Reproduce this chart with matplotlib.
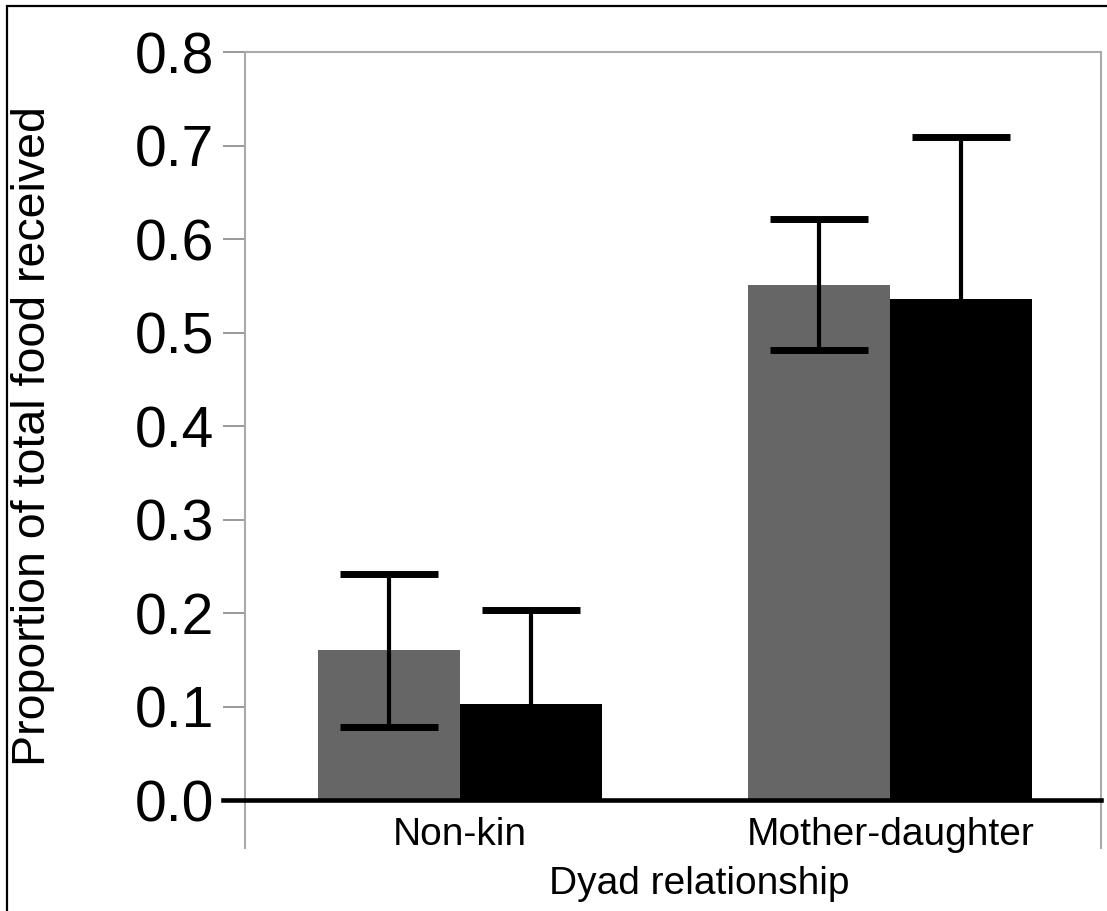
import matplotlib
matplotlib.use("Agg")
import matplotlib.pyplot as plt
from matplotlib.patches import Rectangle
import numpy as np

plt.rcParams['font.family'] = ['Liberation Sans', 'DejaVu Sans']

categories = ["Non-kin", "Mother-daughter"]
gray_values = [0.160, 0.551]
gray_errors = [0.082, 0.070]
black_values = [0.103, 0.536]
black_errors = [0.100, 0.173]
yticks = [0.0, 0.1, 0.2, 0.3, 0.4, 0.5, 0.6, 0.7, 0.8]
ytick_labels = ["0.0", "0.1", "0.2", "0.3", "0.4", "0.5", "0.6", "0.7", "0.8"]

W, H = 1107, 911
fig = plt.figure(figsize=(W / 100, H / 100), dpi=100)
ax = fig.add_axes([245 / W, 1 - 848 / H, (1101 - 245) / W, (848 - 52) / H])

x = np.arange(len(categories))
bw = 0.33
err_kw = dict(ecolor='black', elinewidth=3, capsize=35, capthick=5)
ax.bar(x - bw / 2, gray_values, bw, color='#666666', yerr=gray_errors,
       error_kw=err_kw, zorder=2)
ax.bar(x + bw / 2, black_values, bw, color='#000000', yerr=black_errors,
       error_kw=err_kw, zorder=2)

ax.set_xlim(-0.5, 1.49)
ax.set_ylim(-0.0513, 0.8)
ax.axhline(0, color='black', lw=3.3, zorder=3, xmin=-0.026, clip_on=False)

for side in ['left', 'right', 'top']:
    ax.spines[side].set_color('#aaaaaa')
    ax.spines[side].set_linewidth(1.5)
ax.spines['bottom'].set_visible(False)

ax.set_yticks(yticks)
ax.set_yticklabels(ytick_labels)
ax.tick_params(axis='y', direction='out', length=15.5, width=1.4, color='#999999',
               labelsize=41, pad=7)
ax.set_xticks(x)
ax.set_xticklabels(categories)
ax.tick_params(axis='x', length=0, labelsize=28, pad=-22)

ax.set_xlabel("Dyad relationship", fontsize=28)
ax.xaxis.set_label_coords((699 - 245) / (1101 - 245), -0.023)

fig.text(33 / W, 1 - 436 / H, "Proportion of total food received", rotation=90,
         ha='center', va='center', fontsize=33.5)

border = Rectangle((7 / W, -0.5), 2.0, 1.5 - 5.5 / H, transform=fig.transFigure,
                   fill=False, edgecolor='black', lw=1.6, clip_on=False)
fig.patches.append(border)

fig.savefig("out.png", dpi=100)
